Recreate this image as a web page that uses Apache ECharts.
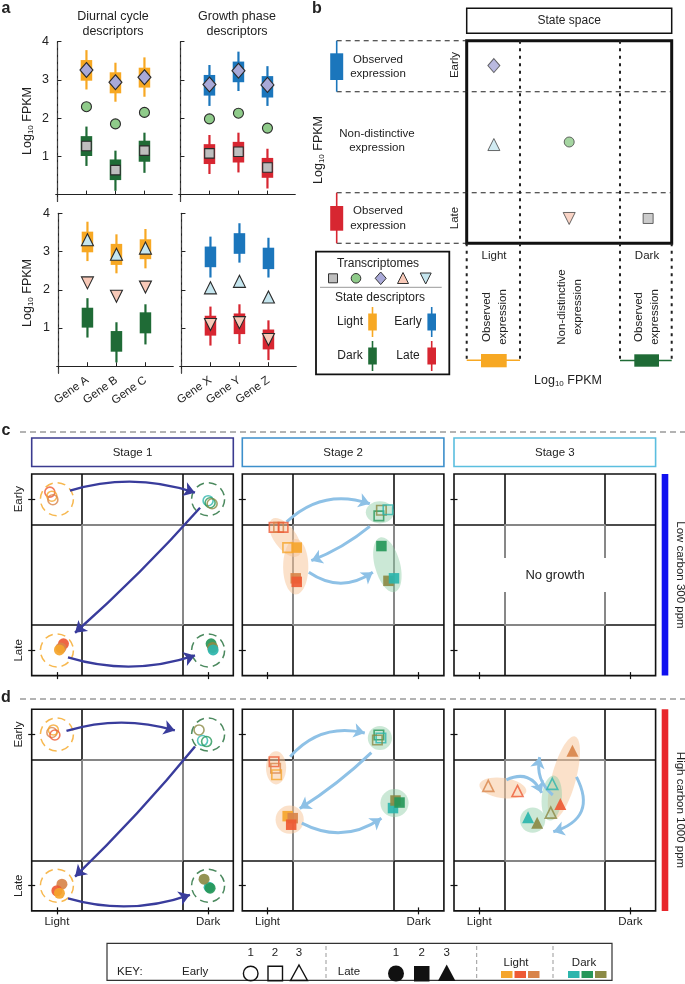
<!DOCTYPE html>
<html><head><meta charset="utf-8">
<script src="https://cdn.jsdelivr.net/npm/echarts@6/dist/echarts.min.js"></script>
<style>html,body{margin:0;padding:0;background:#fff}#c{width:685px;height:984px}</style>
</head><body><div id="c"></div><script>
// ================= DATA =================
const genesDiurnal = ['Gene A','Gene B','Gene C'];
const genesGrowth  = ['Gene X','Gene Y','Gene Z'];
const yTicksA = [1,2,3,4];
// box stats per gene: [low whisker, Q1, Q3, high whisker]  (Log10 FPKM)
const lightBox = [[2.75,2.98,3.52,3.78],[2.43,2.65,3.20,3.45],[2.56,2.80,3.32,3.59]];
const darkBox  = [[0.75,1.01,1.53,1.78],[0.10,0.38,0.92,1.15],[0.57,0.86,1.41,1.62]];
const earlyBox = [[2.32,2.59,3.13,3.39],[2.71,2.94,3.48,3.74],[2.32,2.54,3.10,3.36]];
const lateBox  = [[0.54,0.80,1.32,1.56],[0.58,0.84,1.38,1.62],[0.16,0.44,0.96,1.20]];
// transcriptome values
const diamondDiurnal = [3.26,2.94,3.07], circleDiurnal = [2.30,1.85,2.15], squareDiurnal = [1.27,0.64,1.15];
const diamondGrowth  = [2.88,3.24,2.87], circleGrowth  = [1.98,2.13,1.74], squareGrowth  = [1.08,1.12,0.71];
const upDiurnal = [3.31,2.93,3.09], downDiurnal = [2.18,1.83,2.07];
const upGrowth  = [2.05,2.22,1.81], downGrowth  = [1.09,1.14,0.70];

// panel b: state space positions
const stateDiamond = [[0.53,3.51]], stateUp = [[0.53,1.95]], stateCircle = [[2.0,2.0]];
const stateDown = [[2.0,0.49]], stateSquare = [[3.54,0.49]];

// state-space grids (c, d)
const stateTicks = [0.5,3.5];
const colLabels = ['Light','Dark'];
const rowLabels = ['Late','Early'];
const blackLines = [[1,0,1,4],[3,0,3,4],[0,1,4,1],[0,3,4,3]];
const grayLines  = [[1,1,1,3],[3,1,3,3],[1,1,3,1],[1,3,3,3]];
const ringCentres = [[0.5,3.5,'L'],[3.5,3.5,'D'],[0.5,0.5,'L'],[3.5,0.5,'D']];

// points [x, y, colour key]
const c1Early = [[0.36,3.64,'L2'],[0.40,3.56,'L1'],[0.42,3.49,'L3'],[3.50,3.47,'D1'],[3.54,3.43,'D2'],[3.58,3.41,'D3']];
const c1Late  = [[0.63,0.63,'L2'],[0.58,0.55,'L3'],[0.55,0.51,'L1'],[3.56,0.63,'D2'],[3.59,0.56,'D3'],[3.60,0.51,'D1']];
const c2Early = [[0.63,2.94,'L2'],[0.72,2.94,'L3'],[0.81,2.94,'L2'],[0.90,2.54,'L1'],[2.71,3.17,'D2'],[2.76,3.28,'D3'],[2.89,3.29,'D1']];
const c2Late  = [[1.08,2.54,'L1'],[1.06,1.93,'L3'],[1.08,1.86,'L2'],[2.76,2.57,'D2'],[2.90,1.88,'D3'],[3.01,1.93,'D1']];
const d1Early = [[0.40,3.54,'L3'],[0.43,3.59,'L1'],[0.46,3.49,'L2'],[3.32,3.59,'D3'],[3.39,3.38,'D1'],[3.47,3.36,'D2']];
const d1Late  = [[0.60,0.53,'L3'],[0.50,0.40,'L2'],[0.55,0.35,'L1'],[3.52,0.47,'D1'],[3.42,0.63,'D3'],[3.54,0.45,'D2']];
const d2Early = [[0.63,2.96,'L2'],[0.66,2.83,'L3'],[0.68,2.70,'L1'],[2.71,3.49,'D2'],[2.75,3.43,'D1'],[2.68,3.39,'D3']];
const d2Late  = [[0.90,1.88,'L1'],[1.00,1.84,'L3'],[0.97,1.71,'L2'],[2.99,2.04,'D1'],[3.04,2.19,'D3'],[3.12,2.15,'D2']];
const d3Early = [[0.68,2.48,'L3'],[1.26,2.38,'L2'],[1.95,2.52,'D1'],[1.92,1.95,'D3']];
const d3Late  = [[2.35,3.18,'L3'],[2.11,2.12,'L2'],[1.47,1.86,'D1'],[1.65,1.75,'D3']];
// halos [cx, cy, semi-axis a, semi-axis b, angle(deg, clockwise), group]
const c2Halos = [[0.85,2.74,0.45,0.22,54,'L'],[1.06,2.16,0.55,0.25,90,'L'],[2.73,3.24,0.28,0.22,0,'D'],[2.88,2.20,0.56,0.25,75,'D']];
const d2Halos = [[0.67,2.84,0.20,0.33,0,'L'],[2.73,3.43,0.24,0.24,0,'D'],[0.94,1.81,0.28,0.28,0,'L'],[3.02,2.14,0.28,0.28,0,'D']];
const d3Halos = [[0.97,2.44,0.47,0.20,8,'L'],[2.18,2.64,0.85,0.24,105,'L'],[1.94,2.24,0.45,0.20,95,'D'],[1.56,1.80,0.25,0.25,0,'D']];
// arrows [x1, y1, x2, y2, curveness]
const c1Arrows = [[0.76,3.67,3.24,3.63,0.16],[3.34,3.33,0.86,0.85,0.03],[0.72,0.36,3.24,0.40,-0.16]];
const c2Arrows = [[0.88,3.05,2.53,3.41,0.3],[2.53,2.96,1.37,2.28,0.08],[1.32,2.05,2.59,2.05,-0.34]];
const d1Arrows = [[0.69,3.57,2.84,3.58,0.15],[3.24,3.26,0.86,0.68,0.03],[0.72,0.25,3.14,0.32,-0.16]];
const d2Arrows = [[0.95,3.06,2.43,3.53,0.3],[2.56,3.14,1.14,2.03,0.05],[1.18,1.74,2.76,1.84,-0.3]];
const d3Arrows = [[1.04,2.60,1.74,2.34,0.5],[1.96,2.30,1.70,3.05,0.3],[2.43,2.66,1.97,1.57,0.6]];

// ================= STYLE =================
const FONT = '"Liberation Sans", Arial, Helvetica, sans-serif';
const INK = '#222';
const C = {light:'#F7A823', dark:'#1F6B36', early:'#1B76BC', late:'#D72631'};
const PAL = {L1:'#F5A52C', L2:'#EE5A34', L3:'#D8844A', D1:'#2DB5AC', D2:'#269759', D3:'#8B8A45'};
const HALO = {L:'rgba(247,196,150,0.5)', D:'rgba(140,205,165,0.45)'};
const RING = {L:'#F5A623', D:'#1E6B36'};
const MK = {
  diamond:{symbol:'diamond', size:[13,15], color:'#A9A9D8'},
  circle:{symbol:'circle', size:10, color:'#8FCB8A'},
  square:{symbol:'rect', size:9.5, color:'#BEBEBE'},
  up:{symbol:'triangle', size:12, color:'#C5E6EF', rot:0},
  down:{symbol:'triangle', size:12, color:'#F8C9B8', rot:180}
};

const option = {animation:false, backgroundColor:'#fff', textStyle:{fontFamily:FONT},
  grid:[], xAxis:[], yAxis:[], series:[], graphic:{elements:[]}};
const G = option.graphic.elements;

function addGrid(g, xs, ys){
  const gi = option.grid.length; option.grid.push(g);
  const xi = option.xAxis.length; xs.forEach(x=>option.xAxis.push(Object.assign({gridIndex:gi}, x)));
  const yi = option.yAxis.length; ys.forEach(y=>option.yAxis.push(Object.assign({gridIndex:gi}, y)));
  return {xi, yi};
}

// ================= PANEL a =================
const aPanels = [
  {left:56, top:41.7, genes:genesDiurnal, boxes:[[lightBox,C.light],[darkBox,C.dark]],
   marks:[['diamond',diamondDiurnal],['circle',circleDiurnal],['square',squareDiurnal]], ylab:true, xlab:false},
  {left:179, top:41.7, genes:genesGrowth, boxes:[[earlyBox,C.early],[lateBox,C.late]],
   marks:[['diamond',diamondGrowth],['circle',circleGrowth],['square',squareGrowth]], ylab:false, xlab:false},
  {left:57, top:213.3, genes:genesDiurnal, boxes:[[lightBox,C.light],[darkBox,C.dark]],
   marks:[['up',upDiurnal],['down',downDiurnal]], ylab:true, xlab:true},
  {left:180, top:213.3, genes:genesGrowth, boxes:[[earlyBox,C.early],[lateBox,C.late]],
   marks:[['up',upGrowth],['down',downGrowth]], ylab:false, xlab:true}
];
aPanels.forEach(p=>{
  const pos = p.genes.map((g,i)=>i+1);
  const ax = addGrid({left:p.left, top:p.top, width:116, height:159.8},
    [{type:'value', min:-0.05, max:3.95, position:'bottom',
      axisLine:{show:true, lineStyle:{color:INK, width:1.2}},
      axisTick:{show:true, inside:true, length:4, customValues:pos, lineStyle:{color:INK}},
      axisLabel:{show:p.xlab, customValues:pos, formatter:v=>p.genes[Math.round(v)-1], rotate:35, margin:6,
                 fontSize:11.5, color:INK, fontFamily:FONT},
      splitLine:{show:false}},
     {type:'value', min:-0.05, max:3.95, position:'top', axisLine:{show:true, lineStyle:{color:INK, width:1.2}},
      axisTick:{show:false}, axisLabel:{show:false}, splitLine:{show:false}}],
    [{type:'value', min:-0.18, max:4, position:'left',
      axisLine:{show:true, lineStyle:{color:INK, width:1.2}},
      axisTick:{show:true, inside:true, length:4, customValues:yTicksA, lineStyle:{color:INK}},
      axisLabel:{show:p.ylab, customValues:yTicksA, margin:7, fontSize:12.5, color:INK, fontFamily:FONT},
      splitLine:{show:false}},
     {type:'value', min:-0.18, max:4, position:'right',
      axisLine:{show:true, lineStyle:{color:'#444', width:1, type:[4,3]}},
      axisTick:{show:false}, axisLabel:{show:false}, splitLine:{show:false}}]);
  p.boxes.forEach(([stats,color])=>{
    option.series.push({type:'custom', xAxisIndex:ax.xi, yAxisIndex:ax.yi, z:3, silent:true,
      data: stats.map((s,i)=>[i+1, s[0], s[1], s[2], s[3]]),
      renderItem:(params, api)=>{
        const x = api.value(0);
        const lo = api.coord([x, api.value(1)]), q1 = api.coord([x, api.value(2)]);
        const q3 = api.coord([x, api.value(3)]), hi = api.coord([x, api.value(4)]);
        const bw = 11.5;
        return {type:'group', children:[
          {type:'line', shape:{x1:lo[0], y1:lo[1], x2:hi[0], y2:hi[1]}, style:{stroke:color, lineWidth:2.2}},
          {type:'rect', shape:{x:q3[0]-bw/2, y:q3[1], width:bw, height:q1[1]-q3[1]}, style:{fill:color}}
        ]};
      }});
  });
  p.marks.forEach(([k,vals])=>{
    const m = MK[k];
    option.series.push({type:'scatter', xAxisIndex:ax.xi, yAxisIndex:ax.yi, z:5, silent:true,
      symbol:m.symbol, symbolSize:m.size, symbolRotate:m.rot||0,
      itemStyle:{color:m.color, borderColor:'#2a2a2a', borderWidth:1.1, opacity:1},
      data: vals.map((v,i)=>[i+1, v])});
  });
});

// ================= PANEL b (markers in state space) =================
const bAx = addGrid({left:466.7, top:40.7, width:205, height:202.6, show:true, borderColor:'#111', borderWidth:3, backgroundColor:'transparent'},
  [{type:'value', min:0, max:4, show:false}], [{type:'value', min:0, max:4, show:false}]);
[[stateDiamond,'diamond'],[stateUp,'up'],[stateCircle,'circle'],[stateDown,'down'],[stateSquare,'square']].forEach(([d,k])=>{
  const m = MK[k];
  option.series.push({type:'scatter', xAxisIndex:bAx.xi, yAxisIndex:bAx.yi, z:6, silent:true,
    symbol:m.symbol, symbolSize:(k==='diamond'?[12,14]:(k==='up'||k==='down'?12:10)), symbolRotate:m.rot||0,
    itemStyle:{color:m.color, borderColor:'#444', borderWidth:1}, data:d});
});

// ================= PANELS c, d =================
const SZ = 201.6;
const statePanels = [
  {left:31.7, top:474, stage1:true, bottomRow:false, early:c1Early, late:c1Late, shape:'circle', rings:true, arrows:c1Arrows, arrowColor:'#393C9C'},
  {left:242.3, top:474, stage1:false, bottomRow:false, early:c2Early, late:c2Late, shape:'rect', halos:c2Halos, arrows:c2Arrows, arrowColor:'#8EC1E6'},
  {left:454, top:474, stage1:false, bottomRow:false, early:[], late:[], shape:'triangle', arrows:[], arrowColor:'#8EC1E6'},
  {left:31.7, top:709.3, stage1:true, bottomRow:true, early:d1Early, late:d1Late, shape:'circle', rings:true, arrows:d1Arrows, arrowColor:'#393C9C'},
  {left:242.3, top:709.3, stage1:false, bottomRow:true, early:d2Early, late:d2Late, shape:'rect', halos:d2Halos, arrows:d2Arrows, arrowColor:'#8EC1E6'},
  {left:454, top:709.3, stage1:false, bottomRow:true, early:d3Early, late:d3Late, shape:'triangle', halos:d3Halos, arrows:d3Arrows, arrowColor:'#8EC1E6'}
];
const tick = {show:true, inside:true, length:3.5, customValues:stateTicks, lineStyle:{color:'#111', width:1.2}};
statePanels.forEach(p=>{
  const ax = addGrid({left:p.left, top:p.top, width:SZ, height:SZ, show:true, borderColor:'#111', borderWidth:1.6, backgroundColor:'transparent'},
    [{type:'value', min:0, max:4, position:'bottom', axisLine:{show:false}, axisTick:tick, splitLine:{show:false},
      axisLabel:{show:p.bottomRow, customValues:stateTicks, formatter:v=>colLabels[v<2?0:1], margin:5, fontSize:11.5, color:INK, fontFamily:FONT}},
     {type:'value', min:0, max:4, position:'top', axisLine:{show:false}, axisTick:tick, axisLabel:{show:false}, splitLine:{show:false}}],
    [{type:'value', min:0, max:4, position:'left', axisLine:{show:false}, axisTick:tick, splitLine:{show:false},
      axisLabel:{show:p.stage1, customValues:stateTicks, formatter:v=>rowLabels[v<2?0:1], rotate:90, margin:7, fontSize:11.5, color:INK, fontFamily:FONT}},
     {type:'value', min:0, max:4, position:'right', axisLine:{show:false}, axisTick:tick, axisLabel:{show:false}, splitLine:{show:false}}]);
  const base = {coordinateSystem:'cartesian2d', xAxisIndex:ax.xi, yAxisIndex:ax.yi, silent:true};
  option.series.push(Object.assign({type:'lines', z:2, lineStyle:{color:'#111', width:1.6, opacity:1},
    data:blackLines.map(s=>({coords:[[s[0],s[1]],[s[2],s[3]]]}))}, base));
  option.series.push(Object.assign({type:'lines', z:2, lineStyle:{color:'#9a9a9a', width:1.6, opacity:1},
    data:grayLines.map(s=>({coords:[[s[0],s[1]],[s[2],s[3]]]}))}, base));
  if (p.halos) {
    const hs = p.halos;
    option.series.push({type:'custom', xAxisIndex:ax.xi, yAxisIndex:ax.yi, z:3, silent:true,
      data: hs.map(h=>h.slice(0,5)),
      renderItem:(params, api)=>{
        const h = hs[params.dataIndex];
        const c = api.coord([api.value(0), api.value(1)]);
        const s = api.size([api.value(2), api.value(3)]);
        return {type:'ellipse', x:c[0], y:c[1], rotation:-api.value(4)*Math.PI/180,
          shape:{cx:0, cy:0, rx:s[0], ry:s[1]}, style:{fill:HALO[h[5]]}};
      }});
  }
  if (p.rings) {
    option.series.push(Object.assign({type:'scatter', z:3, symbol:'circle', symbolSize:33,
      data: ringCentres.map(r=>({value:[r[0],r[1]], itemStyle:{color:'rgba(255,255,255,0)', borderColor:RING[r[2]], borderWidth:1.5, borderType:[8,5]}}))}, base));
  }
  if (p.arrows.length) {
    option.series.push(Object.assign({type:'lines', z:4, symbol:['none','arrow'], symbolSize:11,
      lineStyle:{color:p.arrowColor, width:p.arrowColor==='#393C9C'?2.4:3, opacity:1},
      data: p.arrows.map(a=>({coords:[[a[0],a[1]],[a[2],a[3]]], lineStyle:{curveness:a[4]}}))}, base));
  }
  const sz = p.shape==='circle'?10:(p.shape==='rect'?9.5:11);
  option.series.push(Object.assign({type:'scatter', z:5, symbol:p.shape, symbolSize:sz,
    data: p.early.map(q=>({value:[q[0],q[1]], itemStyle:{color:'rgba(255,255,255,0)', borderColor:PAL[q[2]], borderWidth:1.6}}))}, base));
  option.series.push(Object.assign({type:'scatter', z:5, symbol:p.shape, symbolSize:sz+1,
    data: p.late.map(q=>({value:[q[0],q[1]], itemStyle:{color:PAL[q[2]], opacity:0.92}}))}, base));
});

// ================= GRAPHIC (labels, frames, schematic) =================
function txt(x,y,t,o){ o=o||{};
  G.push({type:'text', x:x, y:y, rotation:o.rot||0, z:60, silent:true,
    style:{text:t, x:0, y:0, font:(o.bold?'bold ':'')+(o.size||11.5)+'px '+FONT, fill:o.color||INK,
      align:o.align||'center', textAlign:o.align||'center', verticalAlign:'middle', textVerticalAlign:'middle',
      lineHeight:o.lh||14, rich:o.rich}});
}
function rect(x,y,w,h,o){ G.push({type:'rect', z:o.z||55, silent:true, shape:{x:x,y:y,width:w,height:h},
  style:{fill:o.fill||'none', stroke:o.stroke||null, lineWidth:o.lw||1}}); }
function seg(x1,y1,x2,y2,o){ G.push({type:'line', z:o.z||55, silent:true, shape:{x1:x1,y1:y1,x2:x2,y2:y2},
  style:{stroke:o.stroke||INK, lineWidth:o.lw||1, lineDash:o.dash||null}}); }
const LOG = {text:'Log{s|10} FPKM', rich:{s:{fontSize:8, verticalAlign:'bottom', padding:[5,0,0,0], fontFamily:FONT}}};
function logLabel(x,y,rot){ txt(x,y,LOG.text,{rot:rot, rich:LOG.rich, size:12.5}); }

// panel letters
txt(6,9,'a',{bold:true,size:16}); txt(317,9,'b',{bold:true,size:16});
txt(6,431,'c',{bold:true,size:16}); txt(6,698,'d',{bold:true,size:16});

// panel a labels
txt(113,24.5,'Diurnal cycle\ndescriptors',{size:12.5,lh:15});
txt(237,24.5,'Growth phase\ndescriptors',{size:12.5,lh:15});
logLabel(28,121,Math.PI/2); logLabel(28,293,Math.PI/2);

// panel b schematic
rect(466.7,8.3,205,25,{stroke:'#111',lw:1.5});
txt(569.2,21,'State space',{size:12});
[[40.7,466.7],[91.7,671.7],[192.7,671.7],[243.3,466.7]].forEach(([y,x2])=>seg(336.7,y,x2,y,{lw:1.1,dash:[5,4]}));
seg(520,40.7,520,360,{lw:2,dash:[3,4.5]}); seg(620,40.7,620,360,{lw:2,dash:[3,4.5]});
seg(466.7,243.3,466.7,360,{lw:2,dash:[3,4.5]}); seg(671.7,243.3,671.7,360,{lw:2,dash:[3,4.5]});
seg(336.7,40.7,336.7,91.7,{stroke:C.early,lw:1.6}); rect(330.2,53.3,13,26.7,{fill:C.early});
seg(336.7,192.7,336.7,243.3,{stroke:C.late,lw:1.6}); rect(330.2,206,13,24.7,{fill:C.late});
txt(378,67,'Observed\nexpression',{lh:14.5});
txt(377,141,'Non-distinctive\nexpression',{lh:14.5});
txt(378,218.5,'Observed\nexpression',{lh:14.5});
txt(455,65,'Early',{rot:Math.PI/2}); txt(455,218,'Late',{rot:Math.PI/2});
logLabel(319,150,Math.PI/2);
txt(494,256,'Light'); txt(647,256,'Dark');
txt(495,317,'Observed\nexpression',{rot:Math.PI/2,lh:16});
txt(569.5,307,'Non-distinctive\nexpression',{rot:Math.PI/2,lh:16});
txt(647,317,'Observed\nexpression',{rot:Math.PI/2,lh:16});
seg(466.7,360.3,520,360.3,{stroke:C.light,lw:1.6}); rect(481,354,25.7,13.3,{fill:C.light});
seg(620,360.5,671.7,360.5,{stroke:C.dark,lw:1.6}); rect(634.3,354.3,24.7,12.4,{fill:C.dark});
logLabel(568,381,0);
// legend box
rect(316,251.7,133.3,122.6,{stroke:'#111',lw:1.8});
txt(378,264,'Transcriptomes',{size:12});
G.push({type:'rect', z:56, shape:{x:328.5,y:273.8,width:9,height:9}, style:{fill:'#BEBEBE',stroke:'#333',lineWidth:1}});
G.push({type:'circle', z:56, shape:{cx:356,cy:278.3,r:4.8}, style:{fill:'#8FCB8A',stroke:'#333',lineWidth:1}});
G.push({type:'polygon', z:56, shape:{points:[[380.7,272],[386.2,278.3],[380.7,284.6],[375.2,278.3]]}, style:{fill:'#A9A9D8',stroke:'#333',lineWidth:1}});
G.push({type:'polygon', z:56, shape:{points:[[403,272.5],[408.5,283.5],[397.5,283.5]]}, style:{fill:'#F8C9B8',stroke:'#333',lineWidth:1}});
G.push({type:'polygon', z:56, shape:{points:[[420.2,273],[431.2,273],[425.7,284]]}, style:{fill:'#C5E6EF',stroke:'#333',lineWidth:1}});
seg(320,287.3,441.7,287.3,{stroke:'#999',lw:1});
txt(380,298,'State descriptors',{size:12});
[[350,322,'Light',372.5,C.light],[408,322,'Early',431.7,C.early],[350,356,'Dark',372.5,C.dark],[408,356,'Late',431.7,C.late]].forEach(([tx,ty,t,bx,col])=>{
  txt(tx,ty,t,{size:12});
  seg(bx,ty-15,bx,ty+15,{stroke:col,lw:1.6}); rect(bx-4.3,ty-8.5,8.6,17,{fill:col});
});

// panel c/d frames
seg(20,432,685,432,{stroke:'#9a9a9a',lw:1.5,dash:[6,4]});
seg(20,699,685,699,{stroke:'#9a9a9a',lw:1.5,dash:[6,4]});
[[31.7,'Stage 1','#3B3B8F'],[242.3,'Stage 2','#3D8FCB'],[454,'Stage 3','#5BBEDF']].forEach(([x,t,col])=>{
  rect(x,438,SZ,28.5,{stroke:col,lw:1.6}); txt(x+SZ/2,452.5,t,{size:11.5});
});
rect(661.7,474,6.6,SZ,{fill:'#1010F0'}); txt(680,575,'Low carbon 300 ppm',{rot:-Math.PI/2,size:11.5});
rect(661.7,709.3,6.6,SZ,{fill:'#E8262C'}); txt(680,810,'High carbon 1000 ppm',{rot:-Math.PI/2,size:11.5});
rect(499.5,558,112,34,{fill:'#fff',z:58}); txt(555,575,'No growth',{size:13});

// key
rect(107,943.3,505,37,{stroke:'#333',lw:1.2});
txt(117,972,'KEY:',{align:'left',size:11.5}); txt(182,972,'Early',{align:'left',size:11.5});
G.push({type:'circle', z:56, shape:{cx:250.7,cy:973.5,r:7.3}, style:{fill:'none',stroke:'#111',lineWidth:1.4}});
G.push({type:'rect', z:56, shape:{x:268,y:966.3,width:14.5,height:14.5}, style:{fill:'none',stroke:'#111',lineWidth:1.4}});
G.push({type:'polygon', z:56, shape:{points:[[299,965],[307.5,980.5],[290.5,980.5]]}, style:{fill:'none',stroke:'#111',lineWidth:1.4}});
txt(250.7,953,'1'); txt(275,953,'2'); txt(299,953,'3');
seg(326,946,326,980,{stroke:'#999',lw:1,dash:[4,3]});
txt(349,972,'Late',{size:11.5});
G.push({type:'circle', z:56, shape:{cx:396,cy:973.5,r:8}, style:{fill:'#111'}});
G.push({type:'rect', z:56, shape:{x:414,y:966,width:15.5,height:15.5}, style:{fill:'#111'}});
G.push({type:'polygon', z:56, shape:{points:[[446.7,964.5],[455.5,981],[437.9,981]]}, style:{fill:'#111'}});
txt(396,953,'1'); txt(421.7,953,'2'); txt(446.7,953,'3');
seg(476.7,946,476.7,980,{stroke:'#999',lw:1,dash:[4,3]});
txt(516,963,'Light',{size:11.5});
['L1','L2','L3'].forEach((k,i)=>rect(501+i*13.5,971,11.5,7,{fill:PAL[k]}));
seg(553,946,553,980,{stroke:'#999',lw:1,dash:[4,3]});
txt(584,963,'Dark',{size:11.5});
['D1','D2','D3'].forEach((k,i)=>rect(568+i*13.5,971,11.5,7,{fill:PAL[k]}));

const chart = echarts.init(document.getElementById('c'), null, {renderer:'canvas'});
chart.setOption(option);
</script></body></html>
